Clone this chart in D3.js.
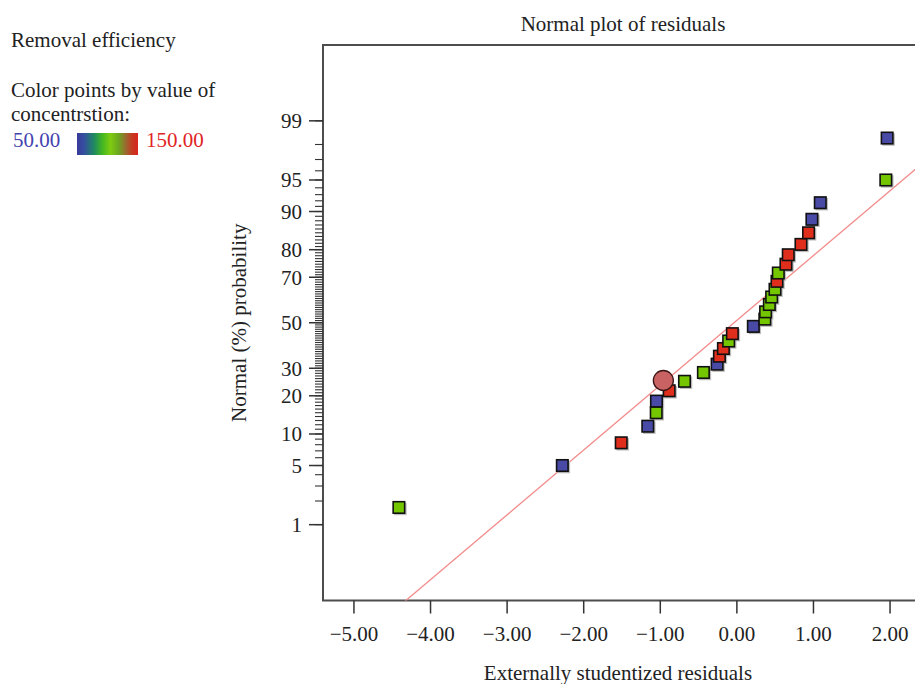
<!DOCTYPE html>
<html><head><meta charset="utf-8">
<script src="https://cdnjs.cloudflare.com/ajax/libs/d3/7.8.5/d3.min.js"></script>
<style>
html,body{margin:0;padding:0;background:#fff;}
svg{display:block;font-family:"Liberation Serif",serif;}
</style></head>
<body>
<svg id="chart" width="915" height="684"></svg>
<script>
// ---- data ----
const residuals = [-4.413, -2.279, -1.510, -1.163, -1.053, -1.050, -0.884, -0.684, -0.437, -0.258,
  -0.228, -0.176, -0.107, -0.059, 0.215, 0.365, 0.375, 0.424, 0.454, 0.498,
  0.524, 0.541, 0.641, 0.671, 0.837, 0.936, 0.980, 1.089, 1.945, 1.962];
const probabilities = [1.667, 5.000, 8.333, 11.667, 15.000, 18.333, 21.667, 25.000, 28.333, 31.667,
  35.000, 38.333, 41.667, 45.000, 48.333, 51.667, 55.000, 58.333, 61.667, 65.000,
  68.333, 71.667, 75.000, 78.333, 81.667, 85.000, 88.333, 91.667, 95.000, 98.333];
const concentration = [100, 50, 150, 50, 100, 50, 150, 100, 100, 50,
  150, 150, 100, 150, 50, 100, 100, 100, 100, 100,
  150, 100, 150, 150, 150, 150, 50, 50, 100, 50];
const highlightResidual = [-0.96];
const highlightProbability = [25.3];
const fitMean = -0.037;
const fitSd = 1.339;
const xTicks = [-5, -4, -3, -2, -1, 0, 1, 2];
const yMajorTicks = [1, 5, 10, 20, 30, 50, 70, 80, 90, 95, 99];
const yMinorTicks = d3.range(1, 100);
const concLevels = [50, 100, 150];
const concColors = ["#4949a6", "#74c700", "#df2e1c"];

// ---- normal quantile (Acklam) ----
function probit(p){
  const a=[-3.969683028665376e+01,2.209460984245205e+02,-2.759285104469687e+02,1.383577518672690e+02,-3.066479806614716e+01,2.506628277459239e+00];
  const b=[-5.447609879822406e+01,1.615858368580409e+02,-1.556989798598866e+02,6.680131188771972e+01,-1.328068155288572e+01];
  const c=[-7.784894002430293e-03,-3.223964580411365e-01,-2.400758277161838e+00,-2.549671033539403e+00,4.374664141464968e+00,2.938163982698783e+00];
  const d=[7.784695709041462e-03,3.224671290700398e-01,2.445134137142996e+00,3.754408661907416e+00];
  const pl=0.02425, ph=1-pl; let q,r;
  if(p<pl){q=Math.sqrt(-2*Math.log(p));return (((((c[0]*q+c[1])*q+c[2])*q+c[3])*q+c[4])*q+c[5])/((((d[0]*q+d[1])*q+d[2])*q+d[3])*q+1);}
  if(p<=ph){q=p-0.5;r=q*q;return (((((a[0]*r+a[1])*r+a[2])*r+a[3])*r+a[4])*r+a[5])*q/(((((b[0]*r+b[1])*r+b[2])*r+b[3])*r+b[4])*r+1);}
  q=Math.sqrt(-2*Math.log(1-p));return -(((((c[0]*q+c[1])*q+c[2])*q+c[3])*q+c[4])*q+c[5])/((((d[0]*q+d[1])*q+d[2])*q+d[3])*q+1);
}

const FS = 21;
const svg = d3.select("#chart");
const L = 323, T = 45, B = 600.5, R = 937;
const x = d3.scaleLinear().domain([-5.404, 2.613]).range([L, R]);
const zScale = d3.scaleLinear().domain([-3.2, 3.2]).range([B, T]);
const y = p => zScale(probit(p / 100));
const color = d3.scaleOrdinal().domain(concLevels).range(concColors);

// clip
svg.append("defs").append("clipPath").attr("id","plotclip")
  .append("rect").attr("x",L).attr("y",T).attr("width",R-L).attr("height",B-T);

// frame
svg.append("path").attr("d",`M${R},${T}H${L}V${B}H${R}`)
  .attr("fill","none").attr("stroke","#4d4d4d").attr("stroke-width",2);

// y ticks
const yg = svg.append("g");
yg.selectAll("line.minor").data(yMinorTicks).join("line")
  .attr("x1",L-8).attr("x2",L).attr("y1",d=>y(d)).attr("y2",d=>y(d))
  .attr("stroke","#333").attr("stroke-width",1.1);
yg.selectAll("line.major").data(yMajorTicks).join("line")
  .attr("x1",L-14).attr("x2",L).attr("y1",d=>y(d)).attr("y2",d=>y(d))
  .attr("stroke","#333").attr("stroke-width",1.5);
yg.selectAll("text").data(yMajorTicks).join("text")
  .attr("x",L-21).attr("y",d=>y(d)).attr("dy","0.35em")
  .attr("text-anchor","end").attr("font-size",FS).attr("fill","#222").text(d=>d);

// x ticks
const xg = svg.append("g");
xg.selectAll("line").data(xTicks).join("line")
  .attr("x1",d=>x(d)).attr("x2",d=>x(d)).attr("y1",B).attr("y2",B+13)
  .attr("stroke","#333").attr("stroke-width",1.5);
xg.selectAll("text").data(xTicks).join("text")
  .attr("x",d=>x(d)).attr("y",641).attr("text-anchor","middle")
  .attr("font-size",FS).attr("fill","#222")
  .text(d=>(d<0?"\u2212":"")+Math.abs(d).toFixed(2));

// fit line
const plot = svg.append("g").attr("clip-path","url(#plotclip)");
const zEnds = [-3.3, 3.3];
plot.append("line")
  .attr("x1",x(fitMean+zEnds[0]*fitSd)).attr("y1",zScale(zEnds[0]))
  .attr("x2",x(fitMean+zEnds[1]*fitSd)).attr("y2",zScale(zEnds[1]))
  .attr("stroke","#f28c8c").attr("stroke-width",1.3);

// points
const pts = residuals.map((r,i)=>({r, p:probabilities[i], c:concentration[i]}));
const s = 11.5;
plot.selectAll("rect.sh").data(pts).join("rect")
  .attr("x",d=>x(d.r)-s/2+1).attr("y",d=>y(d.p)-s/2+1).attr("width",s+1).attr("height",s+1)
  .attr("fill","#bdbdbd");
plot.selectAll("rect.pt").data(pts).join("rect")
  .attr("x",d=>x(d.r)-s/2).attr("y",d=>y(d.p)-s/2).attr("width",s).attr("height",s)
  .attr("fill",d=>color(d.c)).attr("stroke","#111").attr("stroke-width",1.6);

// highlighted circle
plot.selectAll("circle").data(highlightResidual).join("circle")
  .attr("cx",d=>x(d)).attr("cy",(d,i)=>y(highlightProbability[i])).attr("r",10)
  .attr("fill","#c96262").attr("stroke","#3a1414").attr("stroke-width",1.3);

// titles
svg.append("text").attr("x",623).attr("y",31).attr("text-anchor","middle")
  .attr("font-size",FS).attr("fill","#222").text("Normal plot of residuals");
svg.append("text").attr("x",618).attr("y",680).attr("text-anchor","middle")
  .attr("font-size",FS).attr("fill","#222").text("Externally studentized residuals");
svg.append("text").attr("transform",`translate(246,${(T+B)/2}) rotate(-90)`)
  .attr("text-anchor","middle").attr("font-size",FS).attr("fill","#222").text("Normal (%) probability");

// legend
const lg = svg.append("g").attr("font-size",FS).attr("fill","#222");
lg.append("text").attr("x",11).attr("y",47).text("Removal efficiency");
lg.append("text").attr("x",11).attr("y",97).text("Color points by value of");
lg.append("text").attr("x",11).attr("y",121).text("concentrstion:");
lg.append("text").attr("x",13).attr("y",147).attr("fill","#4444b0").text(concLevels[0].toFixed(2));
lg.append("text").attr("x",146).attr("y",147).attr("fill","#e02424").text(concLevels[2].toFixed(2));
const grad = svg.select("defs").append("linearGradient").attr("id","cgrad");
const gstops = [[0,"#3a3a9c"],[0.12,"#34509e"],[0.28,"#1f8a60"],[0.42,"#44b820"],[0.55,"#7ecb10"],[0.68,"#6aa820"],[0.8,"#9a6a30"],[0.9,"#c43a22"],[1,"#d82420"]];
grad.selectAll("stop").data(gstops).join("stop")
  .attr("offset",d=>d[0]).attr("stop-color",d=>d[1]);
lg.append("rect").attr("x",77).attr("y",133).attr("width",61).attr("height",22).attr("fill","url(#cgrad)");
</script>
</body></html>
